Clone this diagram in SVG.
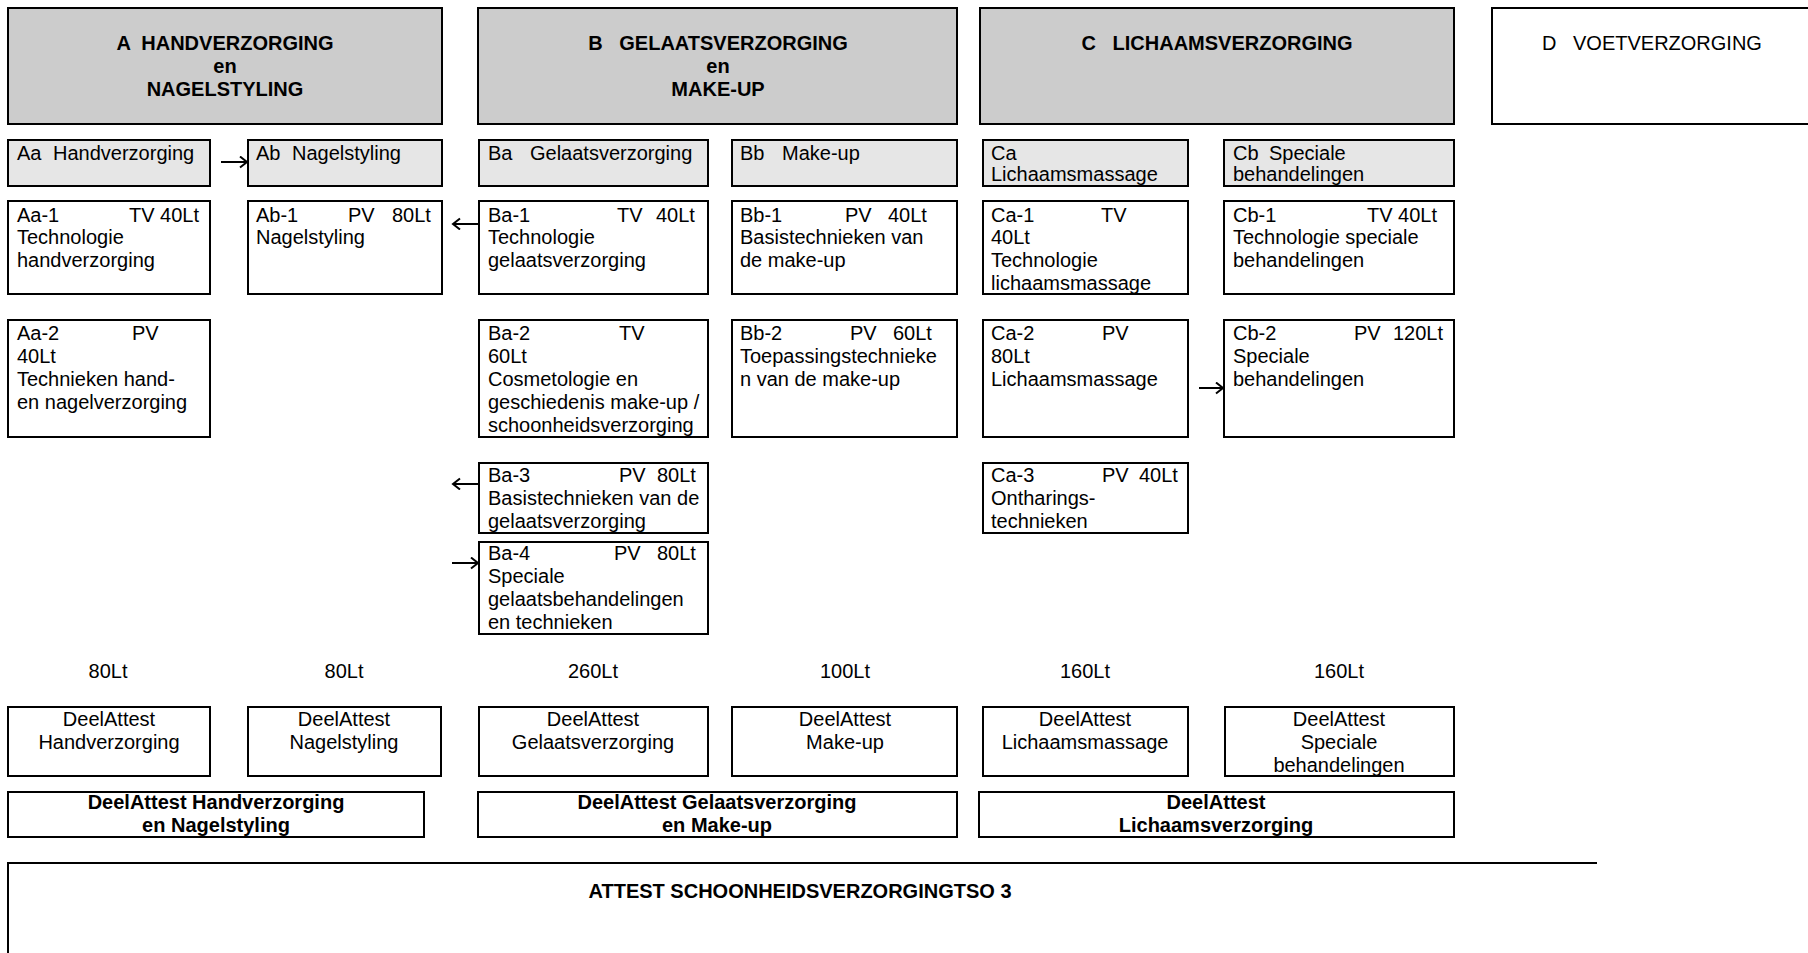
<svg xmlns="http://www.w3.org/2000/svg" width="1808" height="953" viewBox="0 0 1808 953">
<style>
.hdr{fill:#cccccc;stroke:#000;stroke-width:2}
.sub{fill:#e6e6e6;stroke:#000;stroke-width:2}
.box{fill:#fff;stroke:#000;stroke-width:2}
text{font-family:"Liberation Sans",Arial,sans-serif;font-size:20px;fill:#000;white-space:pre}
.b{font-weight:bold}
.c{text-anchor:middle}
.con{stroke:#000;stroke-width:2;fill:none}
</style>
<defs>
<marker id="ah" markerUnits="userSpaceOnUse" markerWidth="12" markerHeight="14" refX="8" refY="6" orient="auto">
<path d="M1,0.5 L8,6 L1,11.5" fill="none" stroke="#000" stroke-width="2"/>
</marker>
</defs>
<rect width="1808" height="953" fill="#fff"/>

<g id="A">
<rect class="hdr" x="8" y="8" width="434" height="116"/>
<text class="b c" x="225" y="50" xml:space="preserve">A  HANDVERZORGING</text>
<text class="b c" x="225" y="73">en</text>
<text class="b c" x="225" y="96">NAGELSTYLING</text>
</g>
<g id="B">
<rect class="hdr" x="478" y="8" width="479" height="116"/>
<text class="b c" x="718" y="50" xml:space="preserve">B   GELAATSVERZORGING</text>
<text class="b c" x="718" y="73">en</text>
<text class="b c" x="718" y="96">MAKE-UP</text>
</g>
<g id="C">
<rect class="hdr" x="980" y="8" width="474" height="116"/>
<text class="b c" x="1217" y="50" xml:space="preserve">C   LICHAAMSVERZORGING</text>
</g>
<g id="D">
<rect class="box" x="1492" y="8" width="400" height="116"/>
<text x="1542" y="50">D</text>
<text x="1573" y="50">VOETVERZORGING</text>
</g>

<g id="Aa">
<rect class="sub" x="8" y="140" width="202" height="46"/>
<text x="17" y="159.5">Aa</text><text x="53" y="159.5">Handverzorging</text>
</g>
<g id="Ab">
<rect class="sub" x="248" y="140" width="194" height="46"/>
<text x="256" y="159.5">Ab</text><text x="292" y="159.5">Nagelstyling</text>
</g>
<g id="Ba">
<rect class="sub" x="479" y="140" width="229" height="46"/>
<text x="488" y="159.5">Ba</text><text x="530" y="159.5">Gelaatsverzorging</text>
</g>
<g id="Bb">
<rect class="sub" x="732" y="140" width="225" height="46"/>
<text x="740" y="159.5">Bb</text><text x="782" y="159.5">Make-up</text>
</g>
<g id="Ca">
<rect class="sub" x="983" y="140" width="205" height="46"/>
<text x="991" y="159.5">Ca</text>
<text x="991" y="181">Lichaamsmassage</text>
</g>
<g id="Cb">
<rect class="sub" x="1224" y="140" width="230" height="46"/>
<text x="1233" y="159.5">Cb</text><text x="1269" y="159.5">Speciale</text>
<text x="1233" y="181">behandelingen</text>
</g>

<g id="Aa-1">
<rect class="box" x="8" y="201" width="202" height="93"/>
<text x="17" y="221.7">Aa-1</text><text x="129" y="221.7">TV 40Lt</text>
<text x="17" y="244.3">Technologie</text>
<text x="17" y="267">handverzorging</text>
</g>
<g id="Ab-1">
<rect class="box" x="248" y="201" width="194" height="93"/>
<text x="256" y="221.7">Ab-1</text><text x="348" y="221.7">PV</text><text x="392" y="221.7">80Lt</text>
<text x="256" y="244.3">Nagelstyling</text>
</g>
<g id="Ba-1">
<rect class="box" x="479" y="201" width="229" height="93"/>
<text x="488" y="221.7">Ba-1</text><text x="617" y="221.7">TV</text><text x="656" y="221.7">40Lt</text>
<text x="488" y="244.3">Technologie</text>
<text x="488" y="267">gelaatsverzorging</text>
</g>
<g id="Bb-1">
<rect class="box" x="732" y="201" width="225" height="93"/>
<text x="740" y="221.7">Bb-1</text><text x="845" y="221.7">PV</text><text x="888" y="221.7">40Lt</text>
<text x="740" y="244.3">Basistechnieken van</text>
<text x="740" y="267">de make-up</text>
</g>
<g id="Ca-1">
<rect class="box" x="983" y="201" width="205" height="93"/>
<text x="991" y="221.7">Ca-1</text><text x="1101" y="221.7">TV</text>
<text x="991" y="244.3">40Lt</text>
<text x="991" y="267">Technologie</text>
<text x="991" y="289.6">lichaamsmassage</text>
</g>
<g id="Cb-1">
<rect class="box" x="1224" y="201" width="230" height="93"/>
<text x="1233" y="221.7">Cb-1</text><text x="1367" y="221.7">TV 40Lt</text>
<text x="1233" y="244.3">Technologie speciale</text>
<text x="1233" y="267">behandelingen</text>
</g>

<g id="Aa-2">
<rect class="box" x="8" y="320" width="202" height="117"/>
<text x="17" y="340">Aa-2</text><text x="132" y="340">PV</text>
<text x="17" y="363">40Lt</text>
<text x="17" y="386">Technieken hand-</text>
<text x="17" y="409">en nagelverzorging</text>
</g>
<g id="Ba-2">
<rect class="box" x="479" y="320" width="229" height="117"/>
<text x="488" y="340">Ba-2</text><text x="619" y="340">TV</text>
<text x="488" y="363">60Lt</text>
<text x="488" y="386">Cosmetologie en</text>
<text x="488" y="409">geschiedenis make-up /</text>
<text x="488" y="432">schoonheidsverzorging</text>
</g>
<g id="Bb-2">
<rect class="box" x="732" y="320" width="225" height="117"/>
<text x="740" y="340">Bb-2</text><text x="850" y="340">PV</text><text x="893" y="340">60Lt</text>
<text x="740" y="363">Toepassingstechnieke</text>
<text x="740" y="386">n van de make-up</text>
</g>
<g id="Ca-2">
<rect class="box" x="983" y="320" width="205" height="117"/>
<text x="991" y="340">Ca-2</text><text x="1102" y="340">PV</text>
<text x="991" y="363">80Lt</text>
<text x="991" y="386">Lichaamsmassage</text>
</g>
<g id="Cb-2">
<rect class="box" x="1224" y="320" width="230" height="117"/>
<text x="1233" y="340">Cb-2</text><text x="1354" y="340">PV</text><text x="1393" y="340">120Lt</text>
<text x="1233" y="363">Speciale</text>
<text x="1233" y="386">behandelingen</text>
</g>

<g id="Ba-3">
<rect class="box" x="479" y="463" width="229" height="70"/>
<text x="488" y="482.3">Ba-3</text><text x="619" y="482.3">PV</text><text x="657" y="482.3">80Lt</text>
<text x="488" y="505">Basistechnieken van de</text>
<text x="488" y="528">gelaatsverzorging</text>
</g>
<g id="Ba-4">
<rect class="box" x="479" y="542" width="229" height="92"/>
<text x="488" y="560">Ba-4</text><text x="614" y="560">PV</text><text x="657" y="560">80Lt</text>
<text x="488" y="583">Speciale</text>
<text x="488" y="606">gelaatsbehandelingen</text>
<text x="488" y="629">en technieken</text>
</g>
<g id="Ca-3">
<rect class="box" x="983" y="463" width="205" height="70"/>
<text x="991" y="482.3">Ca-3</text><text x="1102" y="482.3">PV</text><text x="1139" y="482.3">40Lt</text>
<text x="991" y="505">Ontharings-</text>
<text x="991" y="528">technieken</text>
</g>

<g id="totals">
<text class="c" x="108" y="678">80Lt</text>
<text class="c" x="344" y="678">80Lt</text>
<text class="c" x="593" y="678">260Lt</text>
<text class="c" x="845" y="678">100Lt</text>
<text class="c" x="1085" y="678">160Lt</text>
<text class="c" x="1339" y="678">160Lt</text>
</g>

<g id="DA-Hand">
<rect class="box" x="8" y="707" width="202" height="69"/>
<text class="c" x="109" y="726">DeelAttest</text>
<text class="c" x="109" y="749">Handverzorging</text>
</g>
<g id="DA-Nagel">
<rect class="box" x="248" y="707" width="193" height="69"/>
<text class="c" x="344" y="726">DeelAttest</text>
<text class="c" x="344" y="749">Nagelstyling</text>
</g>
<g id="DA-Gelaat">
<rect class="box" x="479" y="707" width="229" height="69"/>
<text class="c" x="593" y="726">DeelAttest</text>
<text class="c" x="593" y="749">Gelaatsverzorging</text>
</g>
<g id="DA-Makeup">
<rect class="box" x="732" y="707" width="225" height="69"/>
<text class="c" x="845" y="726">DeelAttest</text>
<text class="c" x="845" y="749">Make-up</text>
</g>
<g id="DA-Massage">
<rect class="box" x="983" y="707" width="205" height="69"/>
<text class="c" x="1085" y="726">DeelAttest</text>
<text class="c" x="1085" y="749">Lichaamsmassage</text>
</g>
<g id="DA-Speciaal">
<rect class="box" x="1225" y="707" width="229" height="69"/>
<text class="c" x="1339" y="726">DeelAttest</text>
<text class="c" x="1339" y="749">Speciale</text>
<text class="c" x="1339" y="772">behandelingen</text>
</g>

<g id="DA-A">
<rect class="box" x="8" y="792" width="416" height="45"/>
<text class="b c" x="216" y="809">DeelAttest Handverzorging</text>
<text class="b c" x="216" y="832">en Nagelstyling</text>
</g>
<g id="DA-B">
<rect class="box" x="478" y="792" width="479" height="45"/>
<text class="b c" x="717" y="809">DeelAttest Gelaatsverzorging</text>
<text class="b c" x="717" y="832">en Make-up</text>
</g>
<g id="DA-C">
<rect class="box" x="979" y="792" width="475" height="45"/>
<text class="b c" x="1216" y="809">DeelAttest</text>
<text class="b c" x="1216" y="832">Lichaamsverzorging</text>
</g>

<g id="Attest">
<path class="con" d="M1597,863 H8 V960"/>
<text class="b c" x="800" y="898">ATTEST SCHOONHEIDSVERZORGINGTSO 3</text>
</g>

<g id="connectors">
<line class="con" x1="221" y1="162" x2="247" y2="162" marker-end="url(#ah)"/>
<line class="con" x1="478" y1="224" x2="453" y2="224" marker-end="url(#ah)"/>
<line class="con" x1="478" y1="484" x2="453" y2="484" marker-end="url(#ah)"/>
<line class="con" x1="452" y1="563" x2="478" y2="563" marker-end="url(#ah)"/>
<line class="con" x1="1199" y1="388" x2="1223" y2="388" marker-end="url(#ah)"/>
</g>
</svg>
